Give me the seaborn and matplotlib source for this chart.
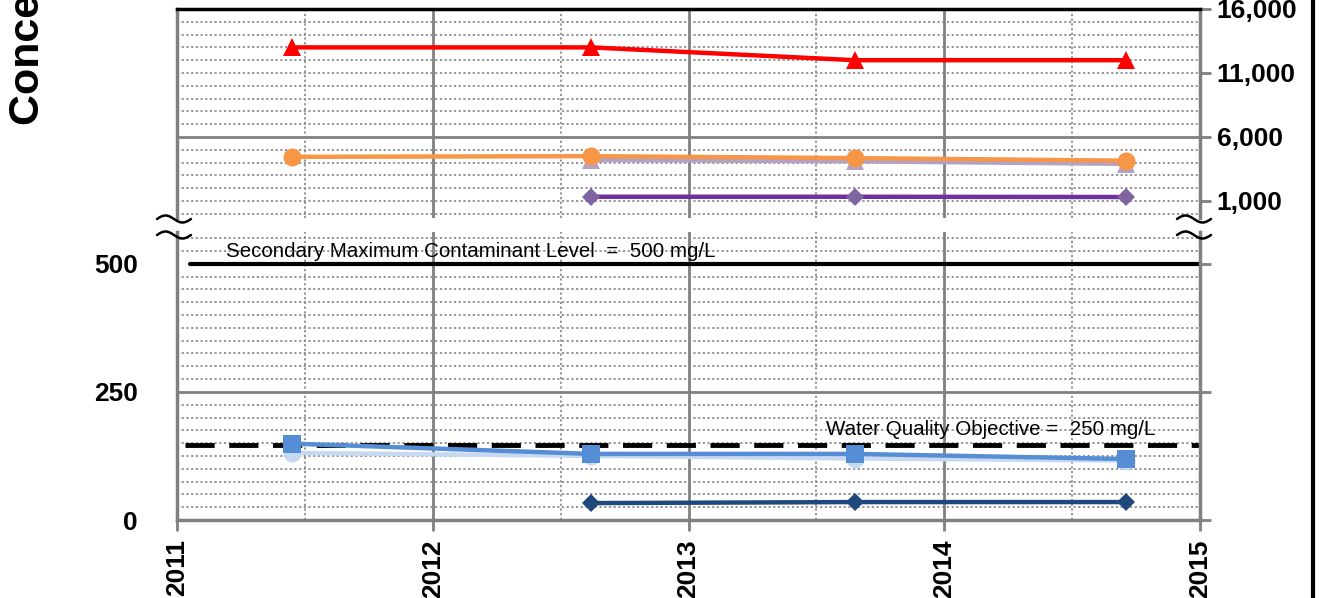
import numpy as np
import pandas as pd
import matplotlib
matplotlib.use('Agg')
import matplotlib.pyplot as plt
from matplotlib.lines import Line2D
import seaborn as sns

# sample dates (decimal years)
dates_all = [2011.45, 2012.62, 2013.65, 2014.71]
dates_late = [2012.62, 2013.65, 2014.71]

# upper panel series (mg/L)
red_tri = [13000, 13000, 12000, 12000]
orange_circ = [4450, 4500, 4350, 4150]
lilac_tri = [4200, 4100, 3900]
purple_diam = [1330, 1330, 1310]

# lower panel series (mg/L)
blue_sq = [149, 129, 129, 119]
lightblue_circ = [131, 125, 120, 116]
navy_diam = [33, 35, 35]

smcl_level = 500
wqo_level = 146

top_ticks = [1000, 6000, 11000, 16000]
top_labels = ['1,000', '6,000', '11,000', '16,000']
bot_ticks = [0, 250, 500]
year_ticks = [2011, 2012, 2013, 2014, 2015]

sns.set_style('white')
plt.rcParams['font.family'] = ['Liberation Sans', 'DejaVu Sans']
plt.rcParams['text.color'] = 'black'
plt.rcParams['xtick.labelcolor'] = 'black'
plt.rcParams['ytick.labelcolor'] = 'black'

W, H = 1321, 598
fig = plt.figure(figsize=(W / 100, H / 100), dpi=100)


def fx(px):
    return px / W


def fy(py):
    return 1 - py / H


L, R = 177, 1200
ax_top = fig.add_axes([fx(L), fy(218), fx(R - L), fy(9) - fy(218)])
ax_bot = fig.add_axes([fx(L), fy(520), fx(R - L), fy(232) - fy(520)])

GRAY = '#808080'
dot = dict(color='#8c8c8c', lw=1.3, ls=(0, (1.2, 1.4)), zorder=0)

for ax in (ax_top, ax_bot):
    ax.set_xlim(2011, 2015)
    for yr in [2011.5, 2012.5, 2013.5, 2014.5]:
        ax.axvline(yr, **dot)
    for yr in [2012, 2013, 2014]:
        ax.axvline(yr, color=GRAY, lw=2, zorder=0)
    for s in ax.spines.values():
        s.set_color(GRAY)
        s.set_linewidth(2.5)

# upper panel
ax_top.set_ylim(-330, 16000)
for v in range(0, 16000, 1000):
    if v != 6000:
        ax_top.axhline(v, **dot)
ax_top.axhline(6000, color=GRAY, lw=2, zorder=0)
ax_top.spines['bottom'].set_visible(False)
ax_top.spines['top'].set_color('black')

kw = dict(lw=3.2, markeredgewidth=0, legend=False)
sns.lineplot(x=dates_all, y=red_tri, ax=ax_top, color='#FF0000', marker='^', markersize=13, **kw)
sns.lineplot(x=dates_late, y=lilac_tri, ax=ax_top, color='#B3A2C7', marker='^', markersize=13, **kw)
sns.lineplot(x=dates_all, y=orange_circ, ax=ax_top, color='#F79646', marker='o', markersize=13, **kw)
sns.lineplot(x=dates_late, y=purple_diam, ax=ax_top, color='#7030A0', marker='D', markersize=9,
             markerfacecolor='#8064A2', **kw)

ax_top.set_xticks([])
ax_top.yaxis.tick_right()
ax_top.set_yticks(top_ticks)
ax_top.set_yticklabels(top_labels, fontsize=19, fontweight='bold')
ax_top.tick_params(axis='y', right=True, length=8, width=2, color=GRAY, pad=4)
ax_top.set_xlabel('')
ax_top.set_ylabel('')

# lower panel
ax_bot.set_ylim(0, 562)
for v in range(25, 575, 25):
    if v not in (250, 500):
        ax_bot.axhline(v, **dot)
ax_bot.axhline(250, color=GRAY, lw=2, zorder=0)
ax_bot.spines['top'].set_visible(False)

ax_bot.plot([2011.05, 2015], [smcl_level, smcl_level], color='black', lw=3, zorder=2)
ax_bot.plot([2011.03, 2015], [wqo_level, wqo_level], color='black', lw=3.5,
            ls=(0, (6, 3)), zorder=2)

sns.lineplot(x=dates_all, y=lightblue_circ, ax=ax_bot, color='#C6D9F1', marker='o', markersize=13, **kw)
sns.lineplot(x=dates_all, y=blue_sq, ax=ax_bot, color='#558ED5', marker='s', markersize=13, **kw)
sns.lineplot(x=dates_late, y=navy_diam, ax=ax_bot, color='#1F497D', marker='D', markersize=9, **kw)

ax_bot.text(2012.15, 524, 'Secondary Maximum Contaminant Level  =  500 mg/L',
            ha='center', va='center', fontsize=14.8, zorder=3)
ax_bot.text(2014.18, 177, 'Water Quality Objective =  250 mg/L',
            ha='center', va='center', fontsize=14.8, zorder=3)

ax_bot.set_yticks(bot_ticks)
ax_bot.set_yticklabels([str(t) for t in bot_ticks], fontsize=19, fontweight='bold')
ax_bot.tick_params(axis='y', left=False, right=True, length=8, width=2, color=GRAY, pad=20)
ax_bot.set_xticks(year_ticks)
ax_bot.set_xticklabels([str(y) for y in year_ticks], fontsize=19, fontweight='bold', rotation=90)
ax_bot.tick_params(axis='x', bottom=True, length=8, width=2, color=GRAY, pad=6)
ax_bot.set_xlabel('')
ax_bot.set_ylabel('')

# axis-break squiggles
t = np.linspace(0, 1, 40)
for x0 in (157, 1177):
    for y0 in (219, 235):
        xs = x0 + 34 * t
        ys = y0 - 3.5 * np.sin(2 * np.pi * t)
        fig.add_artist(Line2D(fx(xs), fy(ys), transform=fig.transFigure, color='black', lw=1.8))

# y label (cut off at the top in the source)
fig.text(fx(28), fy(125), 'Concentration (mg/L)', rotation=90, ha='center', va='bottom',
         fontsize=31, fontweight='bold')

# outer frame edge at right
fig.add_artist(Line2D([fx(1313), fx(1313)], [0, 1], transform=fig.transFigure, color='black', lw=3))

fig.savefig('out.png', dpi=100)
